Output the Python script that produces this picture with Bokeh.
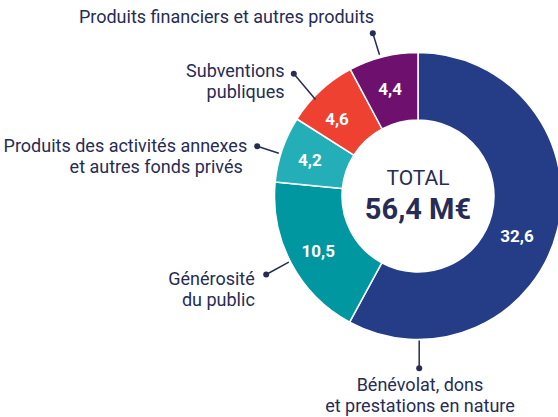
import math
from bokeh.plotting import figure
from bokeh.models import Range1d, ColumnDataSource
from bokeh.core.properties import value
from bokeh.embed import file_html
from bokeh.resources import INLINE

# ---- data ----
categories = ["Bénévolat, dons et prestations en nature",
              "Générosité du public",
              "Produits des activités annexes et autres fonds privés",
              "Subventions publiques",
              "Produits financiers et autres produits"]
values = [32.6, 10.5, 4.2, 4.6, 4.4]
value_labels = ["32,6", "10,5", "4,2", "4,6", "4,4"]
total_title = "TOTAL"
total_label = "56,4 M€"
colors = ["#253D87", "#0097A1", "#24AFB8", "#EE4131", "#6E106E"]

FONT = "Roboto"
TEXT_COLOR = "#262C55"

# layout (picture pixel coordinates, y measured downward -> data y = -pixel_y)
W, H = 558, 417
cx, cy = 417.5, -195.5
r_in, r_out = 76, 143.5

p = figure(width=W, height=H, output_backend="svg", toolbar_location=None,
           x_range=Range1d(0, W), y_range=Range1d(-H, 0),
           min_border=0, outline_line_color=None,
           x_axis_location=None, y_axis_location=None)
p.grid.visible = False
p.background_fill_color = "white"
p.border_fill_color = "white"

tot = sum(values)
starts, ends, mids = [], [], []
a = math.pi / 2
for v in values:
    span = v / tot * 2 * math.pi
    starts.append(a)
    ends.append(a - span)
    mids.append(a - span / 2)
    a -= span

src = ColumnDataSource(dict(start=starts, end=ends, color=colors, cat=categories))
p.annular_wedge(x=cx, y=cy, inner_radius=r_in, outer_radius=r_out,
                start_angle="start", end_angle="end", direction="clock",
                fill_color="color", line_color="white", line_width=1.5, source=src)

# value labels inside slices (angle tweak in degrees, radius)
lab_dang = [-8, 1, 0.5, 3.5, 0.5]
lab_r = [107, 114, 114, 112, 111]
lx = [cx + r * math.cos(m + math.radians(d)) for m, d, r in zip(mids, lab_dang, lab_r)]
ly = [cy + r * math.sin(m + math.radians(d)) for m, d, r in zip(mids, lab_dang, lab_r)]
p.text(x=lx, y=ly, text=value_labels, text_color="white", text_font=value(FONT),
       text_font_style="bold", text_font_size="17px", text_align="center",
       text_baseline="middle")

# centre text
p.text(x=[cx], y=[-177], text=[total_title], text_color=TEXT_COLOR, text_font=value(FONT),
       text_font_size="21px", text_align="center", text_baseline="middle")
p.text(x=[cx], y=[-208], text=[total_label], text_color=TEXT_COLOR, text_font=value(FONT),
       text_font_style="bold", text_font_size="29px", text_align="center",
       text_baseline="middle")

# leader lines: (dot_x, dot_y) -> (edge_x, edge_y)
dots_x = [418.7, 265.7, 256.7, 293.3, 372.3]
dots_y = [-367.7, -274, -145.7, -73.3, -32.7]
edge_x = [418.7, 288.3, 278.3, 315, 379]
edge_y = [-340, -261.7, -152.7, -99, -54.3]
p.segment(x0=dots_x, y0=dots_y, x1=edge_x, y1=edge_y, line_color=TEXT_COLOR, line_width=1.5)
p.scatter(x=dots_x, y=dots_y, size=6, fill_color=TEXT_COLOR, line_color=None)

# category labels (vertical middle of first line)
def lab(x, y, lines, align):
    for i, t in enumerate(lines):
        p.text(x=[x], y=[y - 21 * i], text=[t], text_color=TEXT_COLOR,
               text_font=value(FONT), text_font_size="18px", text_align=align,
               text_baseline="middle")

lab(419.5, -383.7, ["Bénévolat, dons", "et prestations en nature"], "center")
lab(254.3, -277.7, ["Générosité", "du public"], "right")
lab(246.7, -145, ["Produits des activités annexes", "et  autres fonds privés"], "right")
lab(284, -70, ["Subventions", "publiques"], "right")
lab(226, -15.5, ["Produits financiers et autres produits"], "center")

open("out.html", "w").write(file_html(p, INLINE))
